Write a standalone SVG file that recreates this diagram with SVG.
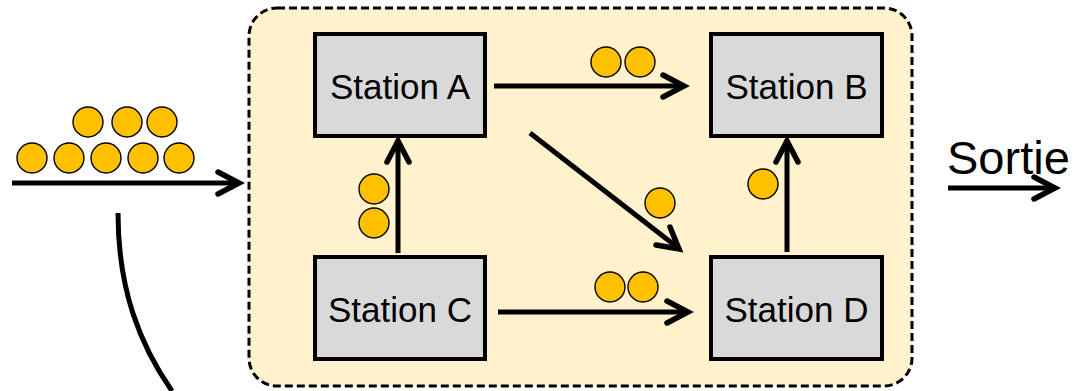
<svg xmlns="http://www.w3.org/2000/svg" width="1080" height="391" viewBox="0 0 1080 391">
  <style>
    .zone { fill: #FFF2CC; stroke: #000; stroke-width: 3; stroke-dasharray: 8 4; }
    .station rect { fill: #D9D9D9; stroke: #000; stroke-width: 4; }
    .station text { font-family: "Liberation Sans", Arial, sans-serif; font-size: 35px; fill: #000; text-anchor: middle; }
    .part { fill: #FFC000; stroke: #000; stroke-width: 1.4; }
    .flow { fill: none; stroke: #000; stroke-width: 5; stroke-linecap: butt; }
    .head { fill: none; stroke: #000; stroke-width: 5.5; stroke-linecap: round; stroke-linejoin: miter; }
    .label { font-family: "Liberation Sans", Arial, sans-serif; font-size: 47px; fill: #000; }
  </style>

  <!-- workshop boundary -->
  <rect id="zone" class="zone" x="249" y="8" width="663" height="378" rx="28" ry="28"/>

  <!-- stations -->
  <g id="station-a" class="station">
    <rect x="315" y="34" width="170" height="102"/>
    <text x="400" y="99">Station A</text>
  </g>
  <g id="station-b" class="station">
    <rect x="711" y="34" width="171" height="102"/>
    <text x="796.5" y="99">Station B</text>
  </g>
  <g id="station-c" class="station">
    <rect x="315" y="257" width="170" height="102"/>
    <text x="400" y="322">Station C</text>
  </g>
  <g id="station-d" class="station">
    <rect x="711" y="257" width="171" height="102"/>
    <text x="796.5" y="322">Station D</text>
  </g>

  <!-- flows between stations -->
  <g id="connectors">
    <!-- input -->
    <line class="flow" x1="12" y1="183" x2="237" y2="183"/>
    <polyline class="head" points="218,172 239,183 218,194"/>
    <!-- A to B -->
    <line class="flow" x1="494" y1="86" x2="682" y2="86"/>
    <polyline class="head" points="663,75 684,86 663,97"/>
    <!-- C to A -->
    <line class="flow" x1="398" y1="253" x2="398" y2="143"/>
    <polyline class="head" points="387,162 398,141 409,162"/>
    <!-- A to D -->
    <line class="flow" x1="530" y1="133" x2="677" y2="247"/>
    <polyline class="head" points="656,245 679,249 670,227"/>
    <!-- C to D -->
    <line class="flow" x1="498" y1="312" x2="686" y2="312"/>
    <polyline class="head" points="667,301 688,312 667,323"/>
    <!-- D to B -->
    <line class="flow" x1="787" y1="252" x2="787" y2="143"/>
    <polyline class="head" points="776,162 787,141 798,162"/>
    <!-- output -->
    <line class="flow" x1="948" y1="188" x2="1053" y2="188"/>
    <polyline class="head" points="1034,177 1055,188 1034,199"/>
    <!-- return loop -->
    <path class="flow" d="M118,213 C118,290 140,345 172,391"/>
  </g>

  <!-- parts in transit -->
  <g id="parts">
    <circle class="part" cx="32" cy="158" r="15"/>
    <circle class="part" cx="69" cy="158" r="15"/>
    <circle class="part" cx="106" cy="158" r="15"/>
    <circle class="part" cx="143" cy="158" r="15"/>
    <circle class="part" cx="179" cy="158" r="15"/>
    <circle class="part" cx="88" cy="122" r="15"/>
    <circle class="part" cx="127" cy="122" r="15"/>
    <circle class="part" cx="162" cy="122" r="15"/>

    <circle class="part" cx="606" cy="62" r="15"/>
    <circle class="part" cx="640" cy="62" r="15"/>

    <circle class="part" cx="374" cy="189" r="15"/>
    <circle class="part" cx="374" cy="223" r="15"/>

    <circle class="part" cx="660" cy="203" r="15"/>

    <circle class="part" cx="610" cy="287" r="15"/>
    <circle class="part" cx="643" cy="287" r="15"/>

    <circle class="part" cx="763" cy="184" r="15"/>
  </g>

  <text id="sortie" class="label" x="947" y="174">Sortie</text>
</svg>
